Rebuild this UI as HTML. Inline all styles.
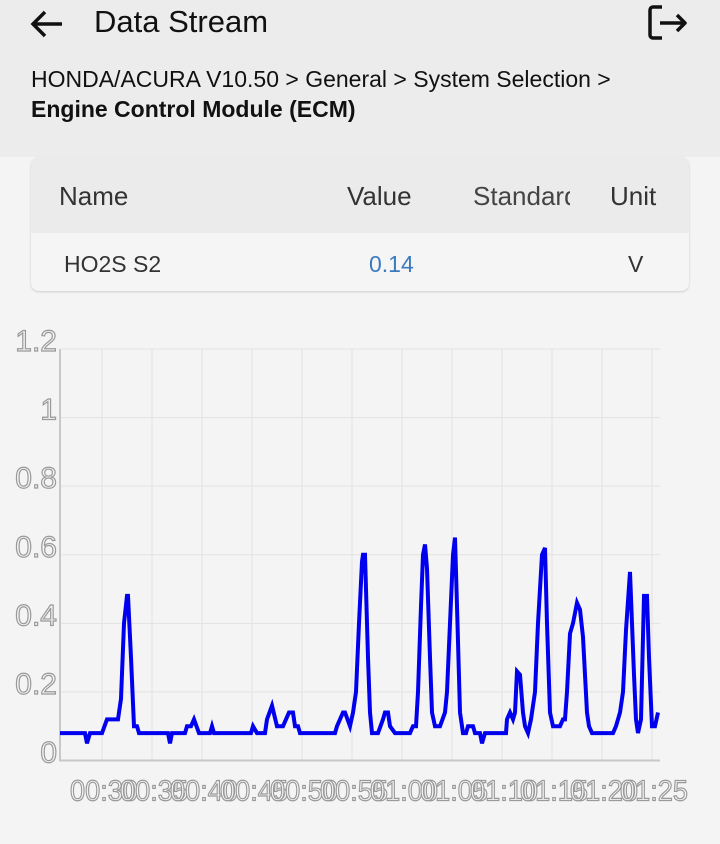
<!DOCTYPE html>
<html><head><meta charset="utf-8">
<style>
body{margin:0;width:720px;height:844px;background:#f4f4f4;font-family:"Liberation Sans",sans-serif;position:relative;overflow:hidden}
.hdr{position:absolute;left:0;top:0;width:720px;height:157px;background:#ececec}
.title{position:absolute;left:94px;top:4px;font-size:31px;color:#111}
.crumb{position:absolute;left:31px;top:64px;font-size:23px;color:#111;line-height:30px}
.card{position:absolute;left:31px;top:157px;width:658px;height:134px;background:#f5f5f5;border-radius:8px;box-shadow:0 1px 2px #ccc;overflow:hidden}
.chead{position:absolute;left:0;top:0;width:658px;height:76px;background:#ebebeb}
.c{position:absolute;font-size:26px;color:#333}
</style></head><body>
<div class="hdr">
<svg style="position:absolute;left:28px;top:6px" width="40" height="36"><path d="M34 18H6M17 6L5 18l12 12" stroke="#111" stroke-width="3.5" fill="none"/></svg>
<div class="title">Data Stream</div>
<svg style="position:absolute;left:644px;top:2px" width="46" height="42"><path d="M18 5H9a3 3 0 0 0-3 3v25a3 3 0 0 0 3 3h9M16 21h25M33 13l8 8-8 8" stroke="#111" stroke-width="3.5" fill="none" stroke-linejoin="round"/></svg>
<div class="crumb">HONDA/ACURA V10.50 &gt; General &gt; System Selection &gt;<br><b>Engine Control Module (ECM)</b></div>
</div>
<div class="card">
<div class="chead"></div>
<div class="c" style="left:28px;top:24px">Name</div>
<div class="c" style="left:316px;top:24px">Value</div>
<div class="c" style="left:442px;top:24px;width:97px;overflow:hidden;white-space:nowrap;color:#444">Standard</div>
<div class="c" style="left:579px;top:24px">Unit</div>
<div class="c" style="left:33px;top:94px;font-size:23px">HO2S S2</div>
<div class="c" style="left:338px;top:94px;font-size:23px;color:#3a7bbf">0.14</div>
<div class="c" style="left:597px;top:94px;font-size:23px">V</div>
</div>
<svg id="chart" style="position:absolute;left:0;top:300px" width="720" height="544"></svg>
<script>
const yTicks=[0,0.2,0.4,0.6,0.8,1,1.2];
const yTickLabels=["0","0.2","0.4","0.6","0.8","1","1.2"];
const xTicks=[30,35,40,45,50,55,60,65,70,75,80,85];
const xTickLabels=["00:30","00:35","00:40","00:45","00:50","00:55","01:00","01:05","01:10","01:15","01:20","01:25"];
const times=[25.8,28.3,28.5,28.8,30.0,30.5,31.6,31.9,32.2,32.5,32.6,32.9,33.2,33.5,33.7,36.6,36.8,37.0,38.3,38.5,38.9,39.2,39.7,40.8,41.0,41.2,44.9,45.1,45.5,46.3,46.5,47.0,47.5,48.1,48.4,48.7,49.1,49.3,49.6,49.8,53.3,53.5,54.1,54.3,54.8,55.1,55.4,55.7,56.0,56.1,56.3,56.6,56.8,57.0,57.6,58.1,58.3,58.6,58.8,59.3,60.8,61.1,61.4,61.6,61.9,62.1,62.3,62.5,62.8,63.0,63.3,63.8,64.3,64.5,64.8,65.1,65.3,65.5,65.8,66.1,66.4,66.6,67.1,67.3,67.8,68.0,68.3,70.4,70.5,70.8,71.1,71.3,71.5,71.8,72.1,72.3,72.6,72.9,73.3,73.6,74.0,74.3,74.5,74.8,75.1,75.8,76.1,76.3,76.5,76.8,77.1,77.5,77.8,78.1,78.5,78.7,79.0,81.1,81.4,81.8,82.1,82.4,82.8,83.2,83.4,83.6,83.9,84.2,84.5,84.7,85.0,85.3,85.6];
const values=[.08,.08,.05,.08,.08,.12,.12,.18,.40,.48,.48,.30,.10,.10,.08,.08,.05,.08,.08,.10,.10,.12,.08,.08,.10,.08,.08,.10,.08,.08,.12,.16,.10,.10,.12,.14,.14,.10,.10,.08,.08,.10,.14,.14,.10,.14,.20,.40,.58,.60,.60,.30,.14,.08,.08,.12,.14,.14,.10,.08,.08,.10,.10,.20,.45,.60,.63,.56,.30,.14,.10,.10,.14,.20,.40,.60,.65,.45,.14,.08,.08,.10,.10,.08,.08,.05,.08,.08,.12,.14,.12,.14,.26,.25,.14,.10,.08,.12,.20,.40,.60,.62,.40,.14,.10,.10,.12,.12,.20,.37,.40,.46,.44,.36,.14,.10,.08,.08,.10,.14,.20,.38,.55,.25,.12,.08,.12,.48,.48,.30,.10,.10,.14];
const svg=document.getElementById('chart');const NS='http://www.w3.org/2000/svg';
const X0=60,X1=660,Y0=460.5,Y1=49;
const xs=t=>X0+(t-25.8)/60*(X1-X0);
const ys=v=>Y0-v/1.2*(Y0-Y1);
function mk(tag,a){const e=document.createElementNS(NS,tag);for(const k in a)e.setAttribute(k,a[k]);svg.appendChild(e);return e;}
yTicks.forEach((v,i)=>{
 const g=mk('line',{x1:X0,x2:X1,y1:ys(v),y2:ys(v),stroke:'#e2e2e2','stroke-width':1});
 
 
 const t=mk('text',{x:57,y:ys(v)+2,'text-anchor':'end','font-size':30,fill:'#f4f4f4',stroke:'#999','stroke-width':1.2,'font-family':'Liberation Sans, sans-serif'});
 t.textContent=yTickLabels[i];
 
 
});
xTicks.forEach((v,i)=>{
 const g=mk('line',{x1:xs(v),x2:xs(v),y1:Y1,y2:Y0,stroke:'#e2e2e2','stroke-width':1});
 
 
 const t=mk('text',{x:xs(v)+2,y:Y0+40,'text-anchor':'middle','font-size':29,fill:'#f4f4f4',stroke:'#999','stroke-width':1.2,'font-family':'Liberation Sans, sans-serif',textLength:68,lengthAdjust:'spacingAndGlyphs'});
 t.textContent=xTickLabels[i];
 
 
});
const ax=mk('path',{d:`M${X0} ${Y1}V${Y0}H${X1}`,stroke:'#c8c8c8','stroke-width':2,fill:'none'});


const ln=mk('polyline',{points:times.map((t,i)=>xs(t)+','+ys(values[i])).join(' '),fill:'none',stroke:'#0000ee','stroke-width':4,'stroke-linejoin':'miter'});


</script>
</body></html>
